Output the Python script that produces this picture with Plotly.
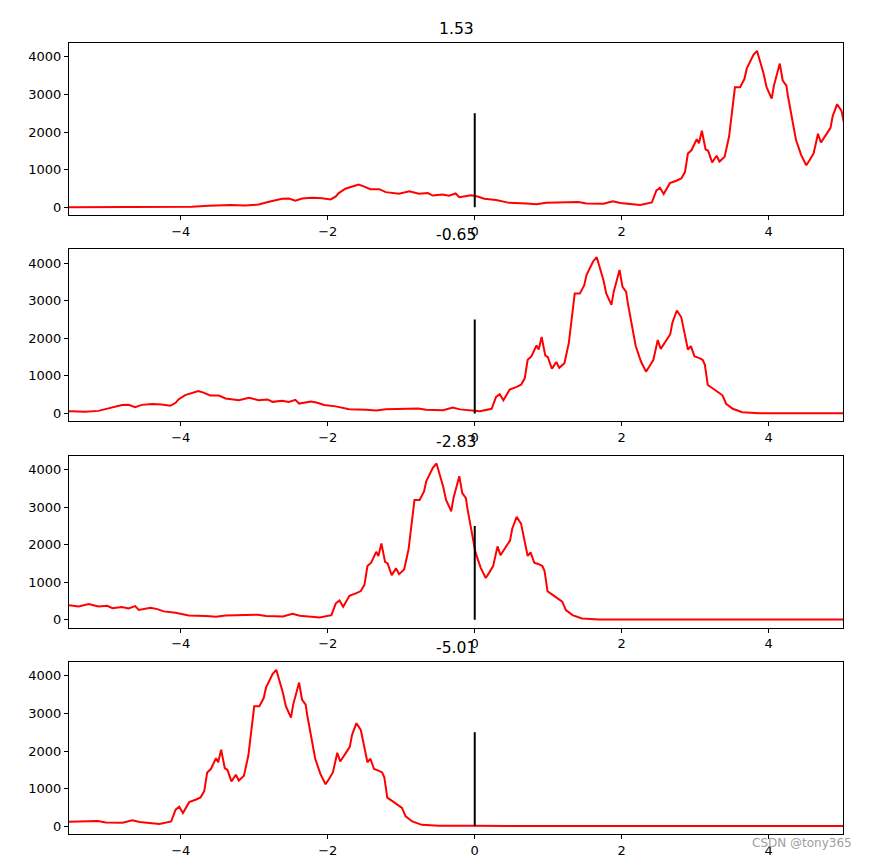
import plotly.graph_objects as go

# Profile, expressed relative to each panel's shift value (u = x - shift)
profile_u = [-7.05, -5.38, -5.15, -4.85, -4.65, -4.47, -4.33, -4.15, -4.06, -3.97, -3.88, -3.74,
             -3.61, -3.49, -3.42, -3.38, -3.29, -3.20, -3.11, -3.04, -2.95, -2.83, -2.74, -2.56,
             -2.42, -2.29, -2.17, -2.10, -1.97, -1.88, -1.79, -1.74, -1.67, -1.58, -1.49, -1.40,
             -1.24, -1.06, -0.83, -0.69, -0.56, -0.33, -0.12, -0.01, 0.22, 0.35, 0.45, 0.72,
             0.88, 0.94, 0.99, 1.04, 1.125, 1.22, 1.28, 1.33, 1.37, 1.42, 1.49, 1.52, 1.56,
             1.61, 1.645, 1.70, 1.76, 1.80, 1.87, 1.93, 2.01, 2.08, 2.14, 2.17, 2.22, 2.26,
             2.31, 2.35, 2.40, 2.44, 2.51, 2.54, 2.58, 2.62, 2.66, 2.71, 2.73, 2.78, 2.84,
             2.91, 2.98, 3.025, 3.08, 3.14, 3.18, 3.25, 3.31, 3.34, 3.40, 3.46, 3.50, 3.55,
             3.59, 3.64, 3.70, 3.75, 3.78, 3.82, 3.89, 3.95, 4.02, 4.07, 4.16, 4.29, 4.52,
             4.97, 5.65, 10.05]
profile_y = [0, 10, 35, 60, 45, 70, 145, 225, 230, 170, 230, 250,
             240, 205, 285, 375, 490, 545, 600, 555, 480, 480, 400, 355,
             420, 355, 375, 310, 340, 305, 365, 265, 285, 320, 285, 225,
             190, 115, 100, 80, 115, 115, 135, 100, 90, 160, 110, 60,
             125, 440, 515, 350, 640, 710, 765, 935, 1430, 1520, 1810, 1700, 2035,
             1540, 1500, 1190, 1370, 1215, 1340, 1880, 3190, 3190, 3415, 3685, 3865, 4045,
             4160, 3910, 3550, 3190, 2890, 3235, 3505, 3820, 3370, 3235, 2965, 2380, 1795,
             1390, 1115, 1250, 1430, 1955, 1720, 1930, 2110, 2425, 2740, 2560, 2155, 1700,
             1795, 1520, 1480, 1430, 1300, 760, 665, 575, 485, 260, 125, 35, 10,
             10, 3, 3]

shifts = [1.53, -0.65, -2.83, -5.01]
titles = ["1.53", "-0.65", "-2.83", "-5.01"]
marker_x = [0, 0]
marker_y = [0, 2500]
x_ticks = [-4, -2, 0, 2, 4]
y_ticks = [0, 1000, 2000, 3000, 4000]
x_range = [-5.52, 5.01]

W, H = 869, 859
ml, mt = 69, 43
mr, mb = W - 843, H - 834
plot_h = H - mt - mb
plot_w = W - ml - mr
panel_h = 172 / plot_h
gap = (1 - 4 * panel_h) / 3

ymax = max(profile_y)
pad = 0.05 * ymax
y_range = [-pad, ymax + pad]

fig = go.Figure()
annotations = []
for i, (s, t) in enumerate(zip(shifts, titles)):
    idx = "" if i == 0 else str(i + 1)
    top = 1 - i * (panel_h + gap)
    bottom = top - panel_h
    xs = [u + s for u in profile_u]
    fig.add_trace(go.Scatter(x=xs, y=profile_y, mode="lines",
                             line=dict(color="red", width=2),
                             xaxis="x" + idx, yaxis="y" + idx, showlegend=False,
                             hoverinfo="skip"))
    fig.add_trace(go.Scatter(x=marker_x, y=marker_y, mode="lines",
                             line=dict(color="black", width=2),
                             xaxis="x" + idx, yaxis="y" + idx, showlegend=False,
                             hoverinfo="skip"))
    axis_common = dict(showline=True, linecolor="black", linewidth=1, mirror=True,
                       ticks="outside", ticklen=4, tickwidth=1, tickcolor="black",
                       showgrid=False, zeroline=False, automargin=False,
                       tickfont=dict(family="DejaVu Sans", size=13, color="black"))
    fig.update_layout(**{
        "xaxis" + idx: dict(domain=[0, 1], range=x_range, tickvals=x_ticks,
                            anchor="y" + idx, **axis_common),
        "yaxis" + idx: dict(domain=[bottom, top], range=y_range, tickvals=y_ticks,
                            anchor="x" + idx, **axis_common),
    })
    annotations.append(dict(text=t, xref="paper", yref="paper", x=0.5, y=top,
                            xanchor="center", yanchor="bottom", yshift=3, showarrow=False,
                            font=dict(family="DejaVu Sans", size=15.6, color="black")))

annotations.append(dict(text="CSDN @tony365", xref="paper", yref="paper",
                        x=(854 - ml) / plot_w, y=(834 - 843) / plot_h,
                        xanchor="right", yanchor="middle", showarrow=False,
                        font=dict(family="DejaVu Sans", size=12, color="#a0a0a0")))

fig.update_layout(width=W, height=H, margin=dict(l=ml, r=mr, t=mt, b=mb),
                  paper_bgcolor="white", plot_bgcolor="white",
                  annotations=annotations, hovermode=False)

fig.write_html("out.html", config={"displayModeBar": False, "staticPlot": True},
               post_script="document.body.style.margin='0';document.body.style.overflow='hidden';")
